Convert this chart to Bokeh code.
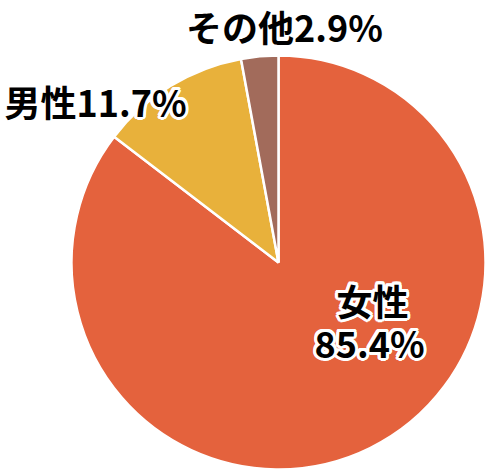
import math
from bokeh.plotting import figure
from bokeh.models import Range1d, ColumnDataSource
from bokeh.core.properties import value
from bokeh.embed import file_html
from bokeh.resources import INLINE

# ---- data ----
categories = ["女性", "男性", "その他"]
percents = [85.4, 11.7, 2.9]
colors = ["#E4623D", "#E8B13B", "#A26B5B"]

# ---- layout (pixel coordinates; y downward negated) ----
W, H = 486, 470
CX, CY, R = 278, -262, 207
FONT = value("Noto Sans CJK JP")
FSIZE = "36px"

p = figure(width=W, height=H, output_backend="svg", toolbar_location=None,
           x_range=Range1d(0, W), y_range=Range1d(-H, 0),
           min_border=0)
p.axis.visible = False
p.grid.visible = False
p.outline_line_color = None
p.background_fill_color = "white"

total = sum(percents)
starts, ends = [], []
a = math.pi / 2
for v in percents:
    starts.append(a)
    a -= v / total * 2 * math.pi
    ends.append(a)

src = ColumnDataSource(dict(x=[CX] * 3, y=[CY] * 3, start=starts, end=ends,
                            color=colors, cat=categories))
p.wedge(x="x", y="y", radius=R, start_angle="start", end_angle="end",
        direction="clock", fill_color="color", line_color="white",
        line_width=2.5, source=src)

# labels built from the data
lines = [categories[0], f"{percents[0]}%",
         f"{categories[1]}{percents[1]}%",
         f"{categories[2]}{percents[2]}%"]
lx = [372, 369, 95, 284]
ly = [-299, -341, -100, -25]
halo = [True, True, True, False]   # white halo only where text sits on the pie

hx = [x for x, h in zip(lx, halo) if h]
hy = [y for y, h in zip(ly, halo) if h]
ht = [t for t, h in zip(lines, halo) if h]
offs = [(3 * math.cos(2 * math.pi * k / 16), 3 * math.sin(2 * math.pi * k / 16))
        for k in range(16)]
for dx, dy in offs:
    p.text(x=[v + dx for v in hx], y=[v + dy for v in hy], text=ht,
           text_font=FONT, text_font_size=FSIZE, text_font_style="bold",
           text_align="center", text_baseline="middle", text_color="white")
p.text(x=lx, y=ly, text=lines, text_font=FONT, text_font_size=FSIZE,
       text_font_style="bold", text_align="center", text_baseline="middle",
       text_color="black")

open("out.html", "w").write(file_html(p, INLINE))
